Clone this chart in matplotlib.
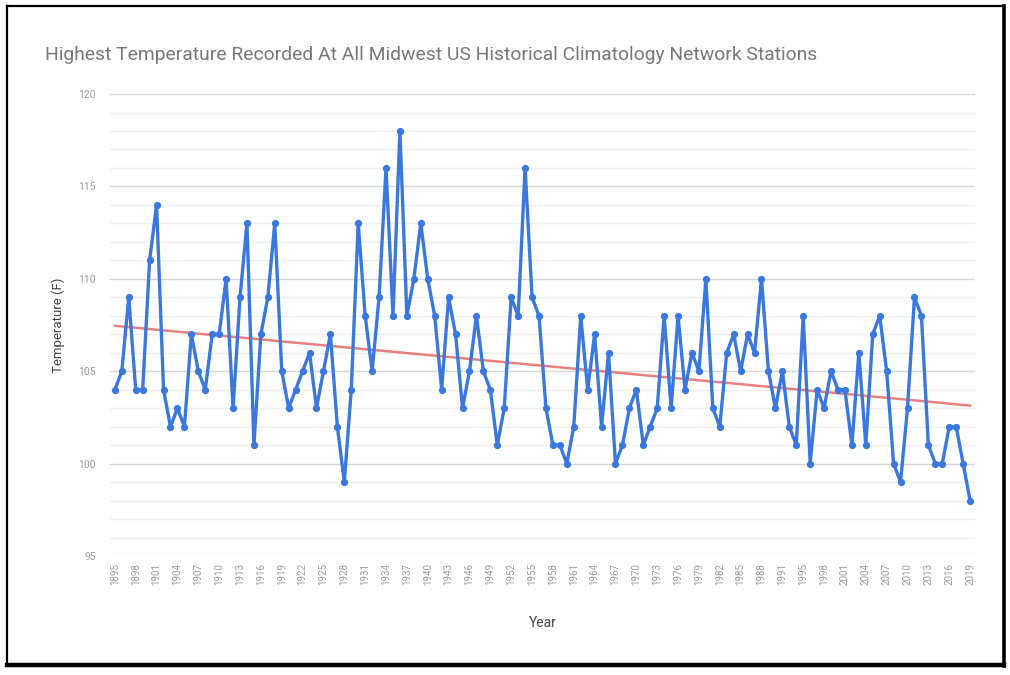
import matplotlib
matplotlib.use("Agg")
from matplotlib import pyplot as plt
from matplotlib.lines import Line2D
import numpy as np

# years on the category axis (one year missing between 1991 and 1995)
years = [y for y in range(1895, 2020) if y != 1993]
temps = [104, 105, 109, 104, 104, 111, 114, 104, 102, 103,
         102, 107, 105, 104, 107, 107, 110, 103, 109, 113,
         101, 107, 109, 113, 105, 103, 104, 105, 106, 103,
         105, 107, 102, 99, 104, 113, 108, 105, 109, 116,
         108, 118, 108, 110, 113, 110, 108, 104, 109, 107,
         103, 105, 108, 105, 104, 101, 103, 109, 108, 116,
         109, 108, 103, 101, 101, 100, 102, 108, 104, 107,
         102, 106, 100, 101, 103, 104, 101, 102, 103, 108,
         103, 108, 104, 106, 105, 110, 103, 102, 106, 107,
         105, 107, 106, 110, 105, 103, 105, 102, 101, 108,
         100, 104, 103, 105, 104, 104, 101, 106, 101, 107,
         108, 105, 100, 99, 103, 109, 108, 101, 100, 100,
         102, 102, 100, 98]
labels = [str(y) for y in years]

title = "Highest Temperature Recorded At All Midwest US Historical Climatology Network Stations"

plt.rcParams['font.family'] = ['Roboto', 'DejaVu Sans']

fig = plt.figure(figsize=(10.1, 6.75), dpi=100)
ax = fig.add_axes([0.1089, 0.1763, 0.8564, 0.6844])

x = np.arange(len(temps))
t = np.array(temps, dtype=float)

# linear trendline
k, b = np.polyfit(x, t, 1)

ax.plot(x, t, color='#3a78e0', lw=2.4, marker='o', ms=4.2, zorder=3)
ax.plot(x, k * x + b, color='#e57373', lw=1.8, alpha=0.9, zorder=2)

ax.set_xlim(-0.7, len(temps) - 0.3)
ax.set_ylim(95, 120)
ax.set_yticks(np.arange(95, 121, 5))
ax.set_yticks(np.arange(95, 121, 1), minor=True)
ax.grid(axis='y', which='major', color='#d6d6d6', lw=1.0)
ax.grid(axis='y', which='minor', color='#efefef', lw=1.0)
ax.set_axisbelow(True)
for s in ax.spines.values():
    s.set_visible(False)

ax.set_xticks(x[::3])
ax.set_xticklabels(labels[::3], rotation=90, fontsize=7, color='#9a9a9a')
ax.tick_params(axis='both', which='both', length=0)
ax.tick_params(axis='x', pad=5)
ax.tick_params(axis='y', labelsize=7.5, labelcolor='#9a9a9a', pad=10)

ax.set_xlabel("Year", fontsize=10, color='#444444', labelpad=22)
ax.set_ylabel("Temperature (F)", fontsize=9.5, color='#444444', labelpad=10)

fig.text(45 / 1010, 1 - 55 / 675, title, fontsize=13.9, color='#777777',
         ha='left', va='center')

# screenshot frame with shadow
W, H = 1010, 675
def fl(x0, y0, x1, y1, lw, c='black'):
    fig.add_artist(Line2D([x0 / W, x1 / W], [1 - y0 / H, 1 - y1 / H],
                          color=c, lw=lw, transform=fig.transFigure))
fl(7, 6, 1004, 6, 1.6)
fl(7, 6, 7, 665, 1.6)
fl(1004, 6, 1004, 666, 2.6)
fl(7, 665, 1004, 665, 3.2)

fig.savefig("out.png", dpi=100)
